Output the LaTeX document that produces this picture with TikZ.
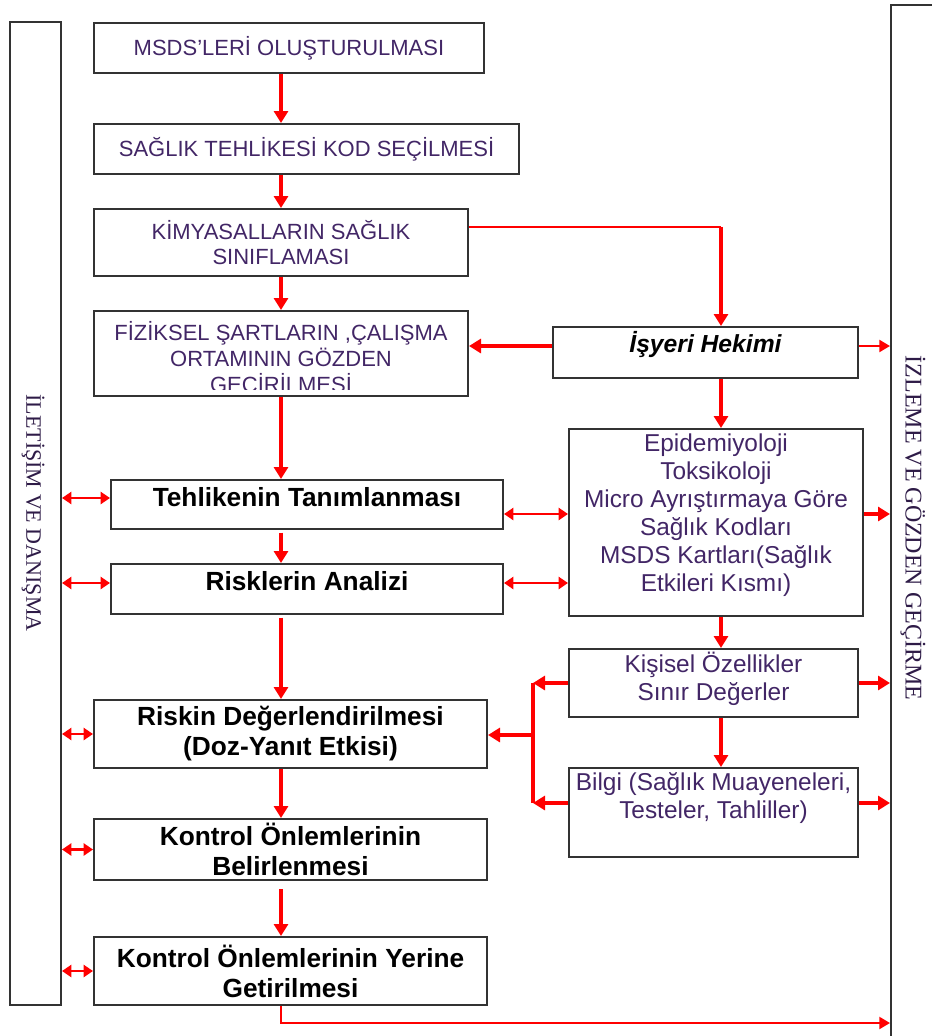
\documentclass[tikz,border=0pt]{standalone}
\usepackage{fontspec}
\setmainfont{Liberation Sans}
\newfontfamily\sideserif{Liberation Serif}
\usetikzlibrary{arrows.meta}
\definecolor{boxtext}{RGB}{66,38,102}
\definecolor{flowred}{RGB}{255,0,0}
\def\pxl{0.75pt}
\tikzset{
  box/.style={draw=black!80, line width=1.5pt, rectangle, inner sep=0pt},
  boxsize/.style 2 args={minimum width=#1*\pxl, minimum height=#2*\pxl},
  capstext/.style={text=boxtext, align=center, font=\fontsize{16.5pt}{18.75pt}\selectfont},
  boldtext/.style={text=black, align=center, font=\bfseries\fontsize{19.7pt}{22.5pt}\selectfont},
  hekimtext/.style={text=black, align=center, font=\bfseries\itshape\fontsize{18.5pt}{22pt}\selectfont},
  plaintext/.style={text=boxtext, align=center, font=\fontsize{18.3pt}{21pt}\selectfont},
  sidetext/.style={text=boxtext!70!black, rotate=-90, font=\sideserif\fontsize{16.5pt}{18pt}\selectfont},
  flow/.style={draw=flowred, line width=2.6pt, -{Triangle[length=9pt,width=10.5pt]}},
  thinflow/.style={draw=flowred, line width=1.6pt, -{Triangle[length=8pt,width=9pt]}},
  twoway/.style={draw=flowred, line width=2.2pt, {Triangle[length=7pt,width=9pt]}-{Triangle[length=7pt,width=9pt]}},
}
\begin{document}
\begin{tikzpicture}[x=\pxl, y=-\pxl]
	\useasboundingbox (0,0) rectangle (932,1036);
	\clip (0,0) rectangle (932,1036);

	% side panels
	\node[box, boxsize={51}{983}] (iletisim) at (35.5,513.5) {};
	\node[sidetext] (iletisim-txt) at (33,513) {İLETİŞİM VE DANIŞMA};
	\node[box, boxsize={70}{1060}] (izleme) at (926,535) {};
	\node[sidetext, font=\sideserif\fontsize{18pt}{20pt}\selectfont] (izleme-txt) at (913,528) {İZLEME VE GÖZDEN GEÇİRME};

	% main column
	\node[box, boxsize={390}{50}, capstext] (msds) at (289,48) {MSDS'LERİ OLUŞTURULMASI};
	\node[box, boxsize={425}{50}, capstext] (saglik) at (306.5,149) {SAĞLIK TEHLİKESİ KOD SEÇİLMESİ};
	\node[box, boxsize={374}{67}, capstext] (kimya) at (281,242.5) {KİMYASALLARIN SAĞLIK\\SINIFLAMASI};
	\node[box, boxsize={374}{85}] (fizik) at (281,353.5) {};
	\begin{scope}
		\clip ([yshift=6pt]fizik.south west) rectangle (fizik.north east);
		\node[capstext, font=\fontsize{16.5pt}{19.5pt}\selectfont, inner sep=0pt, anchor=north] (fizik-txt) at ([yshift=-8.5pt]fizik.north) {FİZİKSEL ŞARTLARIN ,ÇALIŞMA\\ORTAMININ GÖZDEN\\GEÇİRİLMESİ};
	\end{scope}
	\node[box, boxsize={392}{49}, boldtext, text depth=11pt] (tehlike) at (307,504.5) {Tehlikenin Tanımlanması};
	\node[box, boxsize={392}{50}, boldtext, text depth=12pt] (analiz) at (307,589) {Risklerin Analizi};
	\node[box, boxsize={393}{68}, boldtext] (degerl) at (290.5,734) {Riskin Değerlendirilmesi\\(Doz-Yanıt Etkisi)};
	\node[box, boxsize={393}{61}, boldtext] (kontbel) at (290.5,849.5) {Kontrol Önlemlerinin\\Belirlenmesi};
	\node[box, boxsize={393}{68}, boldtext] (kontyer) at (290.5,971) {Kontrol Önlemlerinin Yerine\\Getirilmesi};

	% right column
	\node[box, boxsize={305}{51}, hekimtext, text depth=16pt] (isyeri) at (705.5,352.5) {İşyeri Hekimi};
	\node[box, boxsize={294}{187}, plaintext, text depth=15pt] (epid) at (716,522.5) {Epidemiyoloji\\Toksikoloji\\Micro Ayrıştırmaya Göre\\Sağlık Kodları\\MSDS Kartları(Sağlık\\Etkileri Kısmı)};
	\node[box, boxsize={289}{68}, plaintext, text depth=10pt] (kisisel) at (713.5,683) {Kişisel Özellikler\\Sınır Değerler};
	\node[box, boxsize={289}{89}, plaintext, text depth=26pt] (bilgi) at (713.5,812.5) {Bilgi (Sağlık Muayeneleri,\\Testeler, Tahliller)};

	% rows and turning points
	\coordinate (hook) at (721,227);
	\coordinate (fork) at (533,735);
	\coordinate (hekimrow) at (0,346);
	\coordinate (tehlikerow) at (0,498);
	\coordinate (epidrow) at (0,514);
	\coordinate (analizrow) at (0,583);
	\coordinate (bilgirow) at (0,803);
	\coordinate (bottomrow) at (0,1023);

	\draw[flow] (msds.south -| kimya) -- (saglik.north -| kimya);
	\draw[flow] (saglik.south -| kimya) -- (kimya.north);
	\draw[flow] (kimya.south) -- (fizik.north);
	\draw[flow] (fizik.south) -- (tehlike.north -| fizik);
	\draw[flow, shorten <=2pt] (tehlike.south -| fizik) -- (analiz.north -| fizik);
	\draw[flow, shorten <=2pt] (analiz.south -| fizik) -- (degerl.north -| fizik);
	\draw[flow] (degerl.south -| fizik) -- (kontbel.north -| fizik);
	\draw[flow, shorten <=6pt] (kontbel.south -| fizik) -- (kontyer.north -| fizik);

	\draw[flowred, line width=1.5pt] (kimya.east |- hook) -- (hook);
	\draw[flow] (hook) -- (isyeri.north -| hook);
	\draw[flow] (isyeri.south -| hook) -- (epid.north -| hook);
	\draw[flow] (epid.south -| hook) -- (kisisel.north -| hook);
	\draw[flow] (kisisel.south -| hook) -- (bilgi.north -| hook);
	\draw[flow] (isyeri.west |- hekimrow) -- (fizik.east |- hekimrow);
	\draw[thinflow] (isyeri.east |- hekimrow) -- (izleme.west |- hekimrow);

	\draw[twoway] (tehlike.east |- epidrow) -- (epid.west |- epidrow);
	\draw[twoway] (analiz.east |- analizrow) -- (epid.west |- analizrow);
	\draw[flow] (epid.east |- epidrow) -- (izleme.west |- epidrow);
	\draw[flow] (kisisel.east) -- (izleme.west |- kisisel.east);
	\draw[flow] (bilgi.east |- bilgirow) -- (izleme.west |- bilgirow);

	\draw[flow] (kisisel.west) -- (fork |- kisisel.west);
	\draw[flow] (bilgi.west |- bilgirow) -- (fork |- bilgirow);
	\draw[flowred, line width=2.6pt] (fork |- kisisel.west) -- (fork |- bilgirow);
	\draw[flow] (fork) -- (degerl.east |- fork);

	\draw[twoway] (iletisim.east |- tehlikerow) -- (tehlike.west |- tehlikerow);
	\draw[twoway] (iletisim.east |- analizrow) -- (analiz.west |- analizrow);
	\draw[twoway] (iletisim.east |- degerl.west) -- (degerl.west);
	\draw[twoway] (iletisim.east |- kontbel.west) -- (kontbel.west);
	\draw[twoway] (iletisim.east |- kontyer.west) -- (kontyer.west);

	\draw[thinflow] (kontyer.south -| fizik) |- (izleme.west |- bottomrow);
\end{tikzpicture}
\end{document}
